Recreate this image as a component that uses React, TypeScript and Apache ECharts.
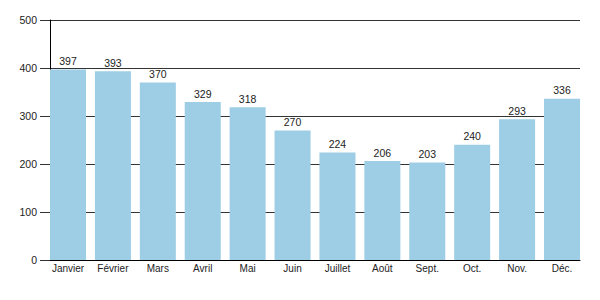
import React, { useEffect, useRef } from "react";
import * as echarts from "echarts";

const months = ["Janvier", "Février", "Mars", "Avril", "Mai", "Juin", "Juillet", "Août", "Sept.", "Oct.", "Nov.", "Déc."];
const values = [397, 393, 370, 329, 318, 270, 224, 206, 203, 240, 293, 336];
const yMin = 0;
const yMax = 500;
const yStep = 100;

export default function App() {
  const ref = useRef<HTMLDivElement>(null);
  useEffect(() => {
    const chart = echarts.init(ref.current!, null, { renderer: "svg" });
    const font = "'Liberation Sans', Arial, sans-serif";
    chart.setOption({
      animation: false,
      grid: [
        { left: 50, right: 20, top: 20, bottom: 40 },
        { left: 45.55, right: 15.55, top: 20, bottom: 40 },
      ],
      xAxis: [
        {
          gridIndex: 0,
          type: "category",
          data: months,
          axisLine: { show: true, lineStyle: { color: "#000", width: 1 } },
          axisTick: { show: false },
          axisLabel: { show: false },
          splitLine: { show: false },
        },
        {
          gridIndex: 1,
          type: "category",
          data: months,
          axisLine: { show: false },
          axisTick: { show: false },
          axisLabel: { color: "#222", fontSize: 10, fontFamily: font, margin: 3, interval: 0 },
        },
      ],
      yAxis: [
        {
          gridIndex: 0,
          type: "value",
          min: yMin,
          max: yMax,
          interval: yStep,
          axisLine: { show: true, lineStyle: { color: "#000", width: 1 } },
          axisTick: { show: true, length: 10, lineStyle: { color: "#333" } },
          axisLabel: { color: "#222", fontSize: 10.5, fontFamily: font, margin: 13 },
          splitLine: { show: true, lineStyle: { color: "#333", width: 1 } },
        },
        {
          gridIndex: 1,
          type: "value",
          min: yMin,
          max: yMax,
          interval: yStep,
          show: false,
          splitLine: { show: false },
        },
      ],
      series: [
        {
          type: "bar",
          xAxisIndex: 1,
          yAxisIndex: 1,
          data: values,
          barCategoryGap: "19.8%",
          itemStyle: { color: "#9dcee6" },
          label: {
            show: true,
            position: "top",
            distance: 3,
            color: "#222",
            fontSize: 10.5,
            fontFamily: font,
          },
        },
      ],
    });
    return () => chart.dispose();
  }, []);
  return <div ref={ref} style={{ width: 600, height: 300, position: "absolute", left: 0, top: 0 }} />;
}
